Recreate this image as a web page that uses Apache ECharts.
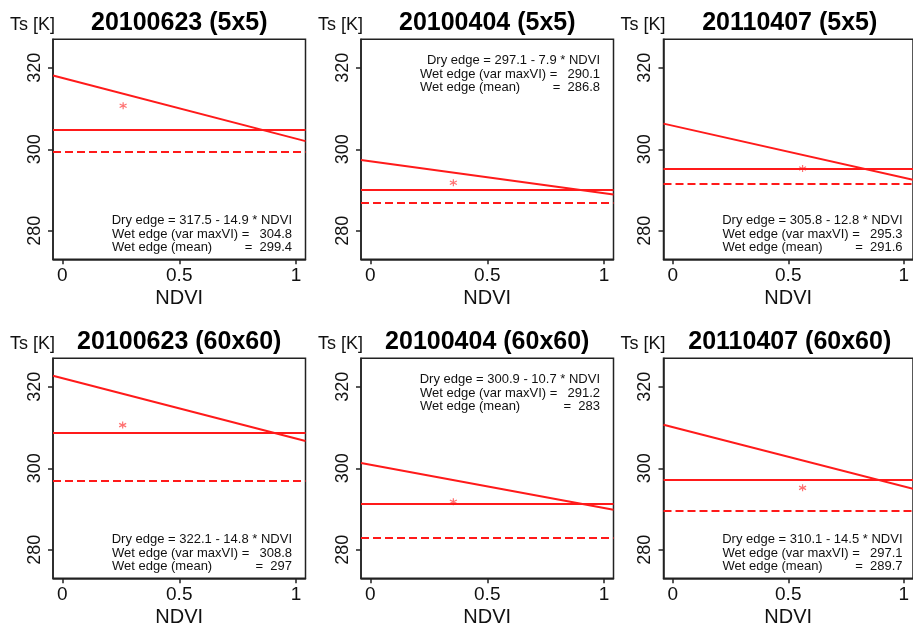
<!DOCTYPE html>
<html>
<head>
<meta charset="utf-8">
<script src="https://cdn.jsdelivr.net/npm/echarts@6/dist/echarts.min.js"></script>
<style>
  html, body { margin: 0; padding: 0; background: #fff; }
  #main { width: 913px; height: 632px; }
</style>
</head>
<body>
<div id="main"></div>
<script>
// panel data, top row 5x5, bottom row 60x60
var titles = ['20100623 (5x5)', '20100404 (5x5)', '20110407 (5x5)',
              '20100623 (60x60)', '20100404 (60x60)', '20110407 (60x60)'];
var dryIntercept = [317.5, 297.1, 305.8, 322.1, 300.9, 310.1];
var drySlope = [14.9, 7.9, 12.8, 14.8, 10.7, 14.5];
// dry edge Ts read at both ends of the plot (NDVI -0.04 and 1.04)
var dryLeft = [318.1, 297.4, 306.3, 322.7, 301.3, 310.7];
var dryRight = [302.0, 288.9, 292.5, 306.7, 289.8, 295.0];
var wetMaxVI = [304.8, 290.1, 295.3, 308.8, 291.2, 297.1];
var wetMean = [299.4, 286.8, 291.6, 297, 283, 289.7];
var pointNdvi = [0.26, 0.355, 0.562, 0.258, 0.355, 0.562];
var pointTs = [310.7, 291.8, 295.3, 310.6, 291.8, 295.2];
var xTicks = [0, 0.5, 1];
var yTicks = [280, 300, 320];
var xRange = [-0.04, 1.04];
var yRange = [273, 327];

// layout
var colLeft = [53, 361, 663.5];
var rowTop = [39.3, 358.3];
var gw = 252.5, gh = 220;
var noteAtTop = [false, true, false, false, true, false];
var font = '"Liberation Sans", Arial, Helvetica, sans-serif';
var red = '#ff1a1a';

var myChart = echarts.init(document.getElementById('main'));

var grids = [], xAxes = [], yAxes = [], series = [], graphics = [];

for (var i = 0; i < 6; i++) {
    var L = colLeft[i % 3], T = rowTop[Math.floor(i / 3)];
    grids.push({
        left: L, top: T, width: gw, height: gh,
        show: true, borderColor: '#222', borderWidth: 1.5
    });
    xAxes.push({
        type: 'value', gridIndex: i, min: xRange[0], max: xRange[1],
        position: 'bottom',
        axisLine: { show: true, onZero: false, lineStyle: { color: '#222', width: 1.5 } },
        axisTick: { show: true, inside: false, length: 5, customValues: xTicks, lineStyle: { color: '#222', width: 1.5 } },
        axisLabel: { customValues: xTicks, fontSize: 19, color: '#111', fontFamily: font, margin: 7 },
        splitLine: { show: false },
        name: 'NDVI', nameLocation: 'middle', nameGap: 29,
        nameTextStyle: { fontSize: 20, color: '#111', fontFamily: font }
    });
    yAxes.push({
        type: 'value', gridIndex: i, min: yRange[0], max: yRange[1],
        position: 'left',
        axisLine: { show: true, onZero: false, lineStyle: { color: '#222', width: 1.5 } },
        axisTick: { show: true, inside: false, length: 5, customValues: yTicks, lineStyle: { color: '#222', width: 1.5 } },
        axisLabel: { customValues: yTicks, rotate: 90, fontSize: 18, color: '#111', fontFamily: font, margin: 9 },
        splitLine: { show: false }
    });

    series.push({
        type: 'line', xAxisIndex: i, yAxisIndex: i,
        data: [[xRange[0], dryLeft[i]], [xRange[1], dryRight[i]]],
        showSymbol: false, silent: true,
        lineStyle: { color: red, width: 2 }
    });
    series.push({
        type: 'scatter', xAxisIndex: i, yAxisIndex: i,
        data: [[pointNdvi[i], pointTs[i]]],
        symbol: 'path://M0,-5L0,5M-4.33,-2.5L4.33,2.5M-4.33,2.5L4.33,-2.5',
        symbolSize: 7,
        itemStyle: { color: 'transparent', borderColor: '#ff4d4d', borderWidth: 1.2 },
        markLine: {
            silent: true, symbol: 'none', label: { show: false },
            data: [
                { yAxis: wetMaxVI[i], lineStyle: { color: red, width: 2, type: 'solid' } },
                { yAxis: wetMean[i], lineStyle: { color: red, width: 2, type: [8, 4] } }
            ]
        }
    });

    // titles and axis unit
    var midY = Math.floor(i / 3) === 0 ? 23 : 342;
    graphics.push({
        type: 'text', x: L + gw / 2, y: midY,
        style: { text: titles[i], fill: '#000', font: 'bold 25px ' + font,
                 align: 'center', verticalAlign: 'middle', textAlign: 'center', textVerticalAlign: 'middle' }
    });
    graphics.push({
        type: 'text', x: L - 43, y: midY + 2,
        style: { text: 'Ts [K]', fill: '#111', font: '18px ' + font,
                 align: 'left', verticalAlign: 'middle', textAlign: 'left', textVerticalAlign: 'middle' }
    });

    // equation notes
    var rx = L + gw - 13.5, lx = rx - 180;
    var ys = noteAtTop[i]
        ? [T + 21.5, T + 35, T + 48.5]
        : [T + gh - 38.5, T + gh - 25, T + gh - 11.5];
    var notes = [
        { x: rx, y: ys[0], a: 'right', t: 'Dry edge = ' + dryIntercept[i] + ' - ' + drySlope[i] + ' * NDVI' },
        { x: lx, y: ys[1], a: 'left', t: 'Wet edge (var maxVI) =' },
        { x: rx, y: ys[1], a: 'right', t: String(wetMaxVI[i]) },
        { x: lx, y: ys[2], a: 'left', t: 'Wet edge (mean)' },
        { x: rx, y: ys[2], a: 'right', t: '=  ' + wetMean[i] }
    ];
    notes.forEach(function (n) {
        graphics.push({
            type: 'text', x: n.x, y: n.y,
            style: { text: n.t, fill: '#111', font: '13px ' + font,
                     align: n.a, verticalAlign: 'middle', textAlign: n.a, textVerticalAlign: 'middle' }
        });
    });
}

var option = {
    backgroundColor: '#fff',
    animation: false,
    grid: grids,
    xAxis: xAxes,
    yAxis: yAxes,
    series: series,
    graphic: { elements: graphics }
};
myChart.setOption(option);
</script>
</body>
</html>
